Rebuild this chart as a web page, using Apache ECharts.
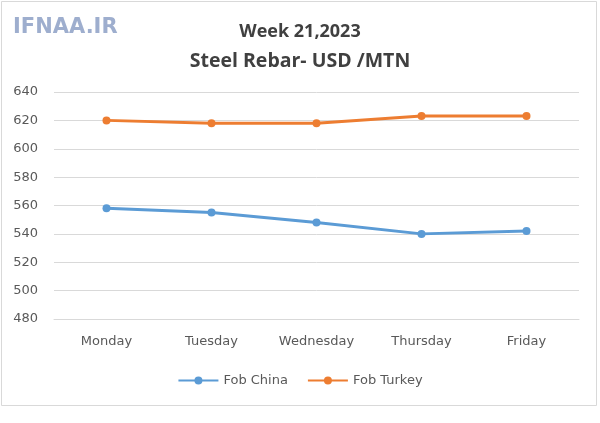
<!DOCTYPE html>
<html><head><meta charset="utf-8">
<script src="https://cdn.jsdelivr.net/npm/echarts@6/dist/echarts.min.js"></script>
<style>html,body{margin:0;padding:0;background:#fff}#c{width:600px;height:423px}</style>
</head><body><div id="c"></div>
<script>
var categories = ['Monday','Tuesday','Wednesday','Thursday','Friday'];
var fobChina = [558, 555, 548, 540, 542];
var fobTurkey = [620, 618, 618, 623, 623];
var titleLine1 = 'Week 21,2023';
var titleLine2 = 'Steel Rebar- USD /MTN';
var watermark = 'IFNAA.IR';

var chart = echarts.init(document.getElementById('c'), null, {renderer:'canvas'});
var font = '"DejaVu Sans", Verdana, sans-serif';
chart.setOption({
  animation:false,
  backgroundColor:'#fff',
  graphic:[
    {type:'rect', shape:{x:1.5,y:1.5,width:595,height:404}, style:{fill:'none', stroke:'#d9d9d9', lineWidth:1}, silent:true},
    {type:'text', x:13, y:28, style:{text:watermark, font:'bold 21px "DejaVu Sans", sans-serif', fill:'#8da0c6', opacity:0.85, textVerticalAlign:'middle', shadowBlur:2, shadowColor:'rgba(100,120,170,0.6)'}},
    {type:'text', x:300, y:32, style:{text:titleLine1, font:'bold 18px "Open Sans", sans-serif', fill:'#404040', textAlign:'center', textVerticalAlign:'middle'}},
    {type:'text', x:300, y:61, style:{text:titleLine2, font:'bold 19.5px "Open Sans", sans-serif', fill:'#404040', textAlign:'center', textVerticalAlign:'middle'}}
  ],
  grid:{left:54, right:21, top:92, bottom:104, containLabel:false},
  legend:{
    top:369, left:'center', itemGap:19, itemWidth:40, itemHeight:10,
    textStyle:{color:'#595959', fontSize:13, fontFamily:font},
    data:['Fob China','Fob Turkey']
  },
  xAxis:{
    type:'category', data:categories, boundaryGap:true,
    axisLine:{show:true, lineStyle:{color:'#d9d9d9'}},
    axisTick:{show:false},
    axisLabel:{color:'#595959', fontSize:13, fontFamily:font, margin:16}
  },
  yAxis:{
    type:'value', min:480, max:640, interval:20,
    axisLine:{show:false}, axisTick:{show:false},
    axisLabel:{color:'#595959', fontSize:13, fontFamily:font, margin:16},
    splitLine:{lineStyle:{color:'#d9d9d9', width:1}}
  },
  series:[
    {name:'Fob China', type:'line', data:fobChina, symbol:'circle', symbolSize:8,
     itemStyle:{color:'#5b9bd5'}, lineStyle:{color:'#5b9bd5', width:3}},
    {name:'Fob Turkey', type:'line', data:fobTurkey, symbol:'circle', symbolSize:8,
     itemStyle:{color:'#ed7d31'}, lineStyle:{color:'#ed7d31', width:3}}
  ]
});
</script></body></html>
